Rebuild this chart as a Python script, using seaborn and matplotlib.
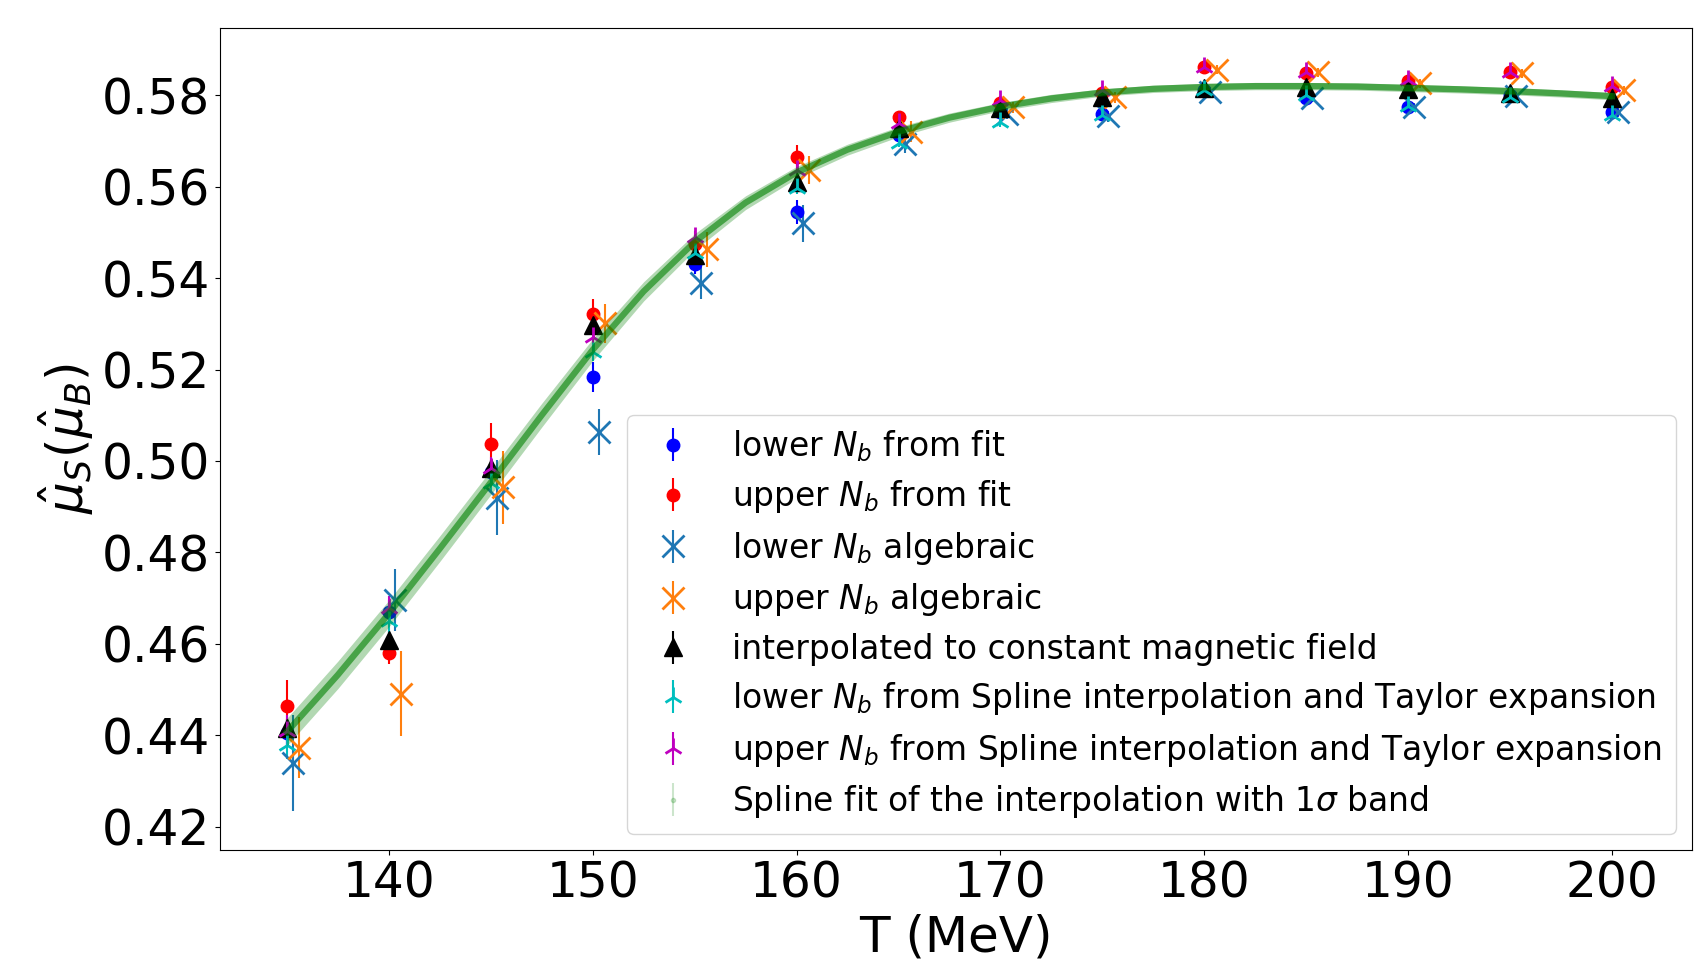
import numpy as np
import matplotlib
matplotlib.use("Agg")
import matplotlib.pyplot as plt
import seaborn as sns

# temperatures of the lattice points (MeV)
T = [135, 140, 145, 150, 155, 160, 165, 170, 175, 180, 185, 190, 195, 200]

lower_fit = [0.4404, 0.4670, 0.4976, 0.5184, 0.5430, 0.5544, 0.5713, 0.5763,
             0.5759, 0.5812, 0.5793, 0.5774, 0.5800, 0.5763]
lower_fit_err = [0.0030, 0.0025, 0.0025, 0.0033, 0.0020, 0.0026, 0.0015, 0.0012,
                 0.0012, 0.0010, 0.0010, 0.0010, 0.0010, 0.0010]

upper_fit = [0.4465, 0.4580, 0.5036, 0.5321, 0.5475, 0.5664, 0.5752, 0.5783,
             0.5804, 0.5861, 0.5849, 0.5832, 0.5850, 0.5817]
upper_fit_err = [0.0056, 0.0025, 0.0046, 0.0033, 0.0020, 0.0028, 0.0012, 0.0012,
                 0.0012, 0.0010, 0.0010, 0.0010, 0.0010, 0.0010]

lower_alg = [0.4339, 0.4696, 0.4920, 0.5063, 0.5389, 0.5520, 0.5694, 0.5759,
             0.5754, 0.5807, 0.5795, 0.5774, 0.5798, 0.5763]
lower_alg_err = [0.0105, 0.0068, 0.0082, 0.0050, 0.0035, 0.0040, 0.0020, 0.0012,
                 0.0012, 0.0010, 0.0010, 0.0010, 0.0010, 0.0010]

upper_alg = [0.4373, 0.4491, 0.4942, 0.5301, 0.5463, 0.5636, 0.5720, 0.5774,
             0.5796, 0.5856, 0.5850, 0.5826, 0.5848, 0.5811]
upper_alg_err = [0.0067, 0.0093, 0.0080, 0.0043, 0.0038, 0.0030, 0.0023, 0.0012,
                 0.0012, 0.0010, 0.0010, 0.0010, 0.0010, 0.0010]

interp = [0.4415, 0.4609, 0.4984, 0.5297, 0.5450, 0.5610, 0.5728, 0.5772,
          0.5796, 0.5815, 0.5818, 0.5813, 0.5804, 0.5793]
interp_err = [0.0020, 0.0020, 0.0018, 0.0015, 0.0012, 0.0012, 0.0010, 0.0008,
              0.0008, 0.0008, 0.0008, 0.0008, 0.0008, 0.0008]

lower_spl = [0.4378, 0.4649, 0.4952, 0.5238, 0.5454, 0.5597, 0.5696, 0.5741,
             0.5757, 0.5811, 0.5800, 0.5777, 0.5796, 0.5757]
lower_spl_err = [0.0030, 0.0025, 0.0022, 0.0020, 0.0015, 0.0012, 0.0010, 0.0010,
                 0.0010, 0.0008, 0.0008, 0.0008, 0.0008, 0.0008]

upper_spl = [0.4410, 0.4678, 0.4984, 0.5271, 0.5489, 0.5636, 0.5739, 0.5789,
             0.5811, 0.5861, 0.5850, 0.5834, 0.5850, 0.5820]
upper_spl_err = [0.0035, 0.0027, 0.0025, 0.0020, 0.0015, 0.0012, 0.0010, 0.0010,
                 0.0010, 0.0008, 0.0008, 0.0008, 0.0008, 0.0008]

# spline fit every 2.5 MeV
spline_T = [135, 137.5, 140, 142.5, 145, 147.5, 150, 152.5, 155, 157.5, 160,
            162.5, 165, 167.5, 170, 172.5, 175, 177.5, 180, 182.5, 185, 187.5,
            190, 192.5, 195, 197.5, 200]
spline_mu = [0.4407, 0.4532, 0.4666, 0.4808, 0.4953, 0.5100, 0.5243, 0.5371,
             0.5479, 0.5565, 0.5631, 0.5681, 0.5720, 0.5751, 0.5775, 0.5793,
             0.5806, 0.5814, 0.5818, 0.5820, 0.5820, 0.5819, 0.5816, 0.5813,
             0.5809, 0.5804, 0.5798]
spline_err = [0.0030, 0.0030, 0.0029, 0.0028, 0.0027, 0.0026, 0.0024, 0.0021,
              0.0018, 0.0015, 0.0013, 0.0012, 0.0011, 0.0010, 0.0009, 0.0009,
              0.0008, 0.0008, 0.0008, 0.0008, 0.0008, 0.0008, 0.0008, 0.0008,
              0.0008, 0.0008, 0.0008]

T = np.array(T)
fig = plt.figure(figsize=(17, 9.6), dpi=100)
ax = fig.add_axes([0.1294, 0.1146, 0.9953 - 0.1294, 0.9708 - 0.1146])

ax.errorbar(T, lower_fit, yerr=lower_fit_err, fmt='o', color='b', ms=9,
            label='lower $N_b$ from fit')
ax.errorbar(T, upper_fit, yerr=upper_fit_err, fmt='o', color='r', ms=9,
            label='upper $N_b$ from fit')
ax.errorbar(T + 0.3, lower_alg, yerr=lower_alg_err, fmt='x', color='C0', ms=16,
            mew=2, label='lower $N_b$ algebraic')
ax.errorbar(T + 0.6, upper_alg, yerr=upper_alg_err, fmt='x', color='C1', ms=16,
            mew=2, label='upper $N_b$ algebraic')
ax.errorbar(T, interp, yerr=interp_err, fmt='^', color='k', ms=13,
            label='interpolated to constant magnetic field')
ax.errorbar(T, lower_spl, yerr=lower_spl_err, fmt='2', color='c', ms=15,
            mew=2, label='lower $N_b$ from Spline interpolation and Taylor expansion')
ax.errorbar(T, upper_spl, yerr=upper_spl_err, fmt='2', color='m', ms=15,
            mew=2, label='upper $N_b$ from Spline interpolation and Taylor expansion')

# spline with 1 sigma band
lo = np.array(spline_mu) - np.array(spline_err)
hi = np.array(spline_mu) + np.array(spline_err)
ax.fill_between(spline_T, lo, hi, color='green', alpha=0.3, lw=0, zorder=5)
sns.lineplot(x=spline_T, y=spline_mu, ax=ax, color='green', alpha=0.6, lw=4.5,
             solid_joinstyle='round', zorder=6)
ax.errorbar([np.nan], [np.nan], yerr=[np.nan], fmt='.', color='green', alpha=0.2,
            label=r'Spline fit of the interpolation with 1$\sigma$ band')

ax.set_xlim(131.72, 203.92)
ax.set_ylim(0.4149, 0.5947)
ax.set_xticks([140, 150, 160, 170, 180, 190, 200])
ax.set_yticks(np.arange(0.42, 0.5801, 0.02))
ax.tick_params(labelsize=35)
ax.set_xlabel('T (MeV)', fontsize=36)
ax.set_ylabel(r'$\hat{\mu}_S(\hat{\mu}_B)$', fontsize=36)
ax.legend(loc='lower right', fontsize=23.7, labelspacing=0.44)

fig.savefig('out.png', dpi=100)
